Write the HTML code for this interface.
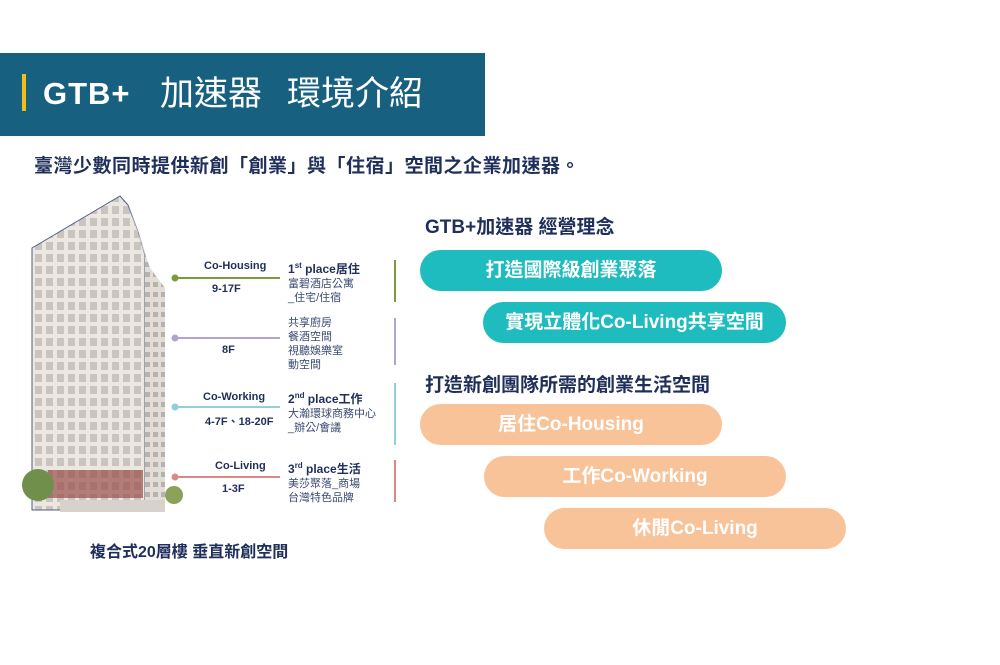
<!DOCTYPE html>
<html><head><meta charset="utf-8"><style>
body{margin:0;width:1000px;height:665px;background:#fff;position:relative;overflow:hidden;font-family:"Liberation Sans","Noto Sans CJK TC",sans-serif;color:#1f2f5a}
.a{position:absolute;white-space:nowrap}
.hdr{left:0;top:53px;width:485px;height:83px;background:#17607f}
.pill{position:absolute;height:41px;border-radius:21px;color:#fff;font-size:19px;font-weight:bold;text-align:center;line-height:41px}
.t{background:#1fbcbf}.p{background:#f8c398}
.lab{font-size:11px;font-weight:bold;color:#1f2f5a}
.sub{font-size:11px;line-height:14px;color:#3a4a70}
.hd{font-size:12px;font-weight:bold;color:#1f2f5a}
.vl{position:absolute;width:2px;left:394px}
</style></head><body>
<div class="a hdr"></div>
<div class="a" style="left:22px;top:74px;width:4px;height:37px;background:#f2bd16"></div>
<div class="a" style="left:43px;top:74px;font-size:31px;font-weight:bold;color:#fff;line-height:40px;letter-spacing:1px">GTB+</div>
<div class="a" style="left:160px;top:72px;font-size:34px;color:#fff;line-height:44px">加速器</div>
<div class="a" style="left:287px;top:72px;font-size:34px;color:#fff;line-height:44px">環境介紹</div>
<div class="a" style="left:34px;top:151px;font-size:19px;font-weight:bold;letter-spacing:0.5px">臺灣少數同時提供新創「創業」與「住宿」空間之企業加速器。</div>

<svg class="a" style="left:0;top:0" width="400" height="530">
<defs><pattern id="w" width="11" height="12" patternUnits="userSpaceOnUse"><rect width="11" height="12" fill="#ece7e0"/><rect x="2" y="2" width="7" height="8" fill="#c9c4bf"/></pattern>
<pattern id="w2" width="8" height="10" patternUnits="userSpaceOnUse"><rect width="8" height="10" fill="#e2ddd6"/><rect x="1" y="2" width="5" height="5" fill="#b8b2ad"/></pattern></defs>
<polygon points="32,248 120,196 128,205 138,232 145,255 145,510 32,510" fill="url(#w)" stroke="#4a5f8a" stroke-width="1"/>
<polygon points="128,205 138,232 150,268 165,288 165,505 145,510 145,255" fill="url(#w2)"/>
<rect x="48" y="470" width="95" height="28" fill="#9a4f4a" opacity="0.7"/>
<rect x="60" y="500" width="105" height="12" fill="#d8d2cc"/>
<circle cx="38" cy="485" r="16" fill="#6f8f4a"/><circle cx="174" cy="495" r="9" fill="#8aa25a"/>
<line x1="175" y1="278" x2="280" y2="278" stroke="#7a9a3c" stroke-width="2"/><circle cx="175" cy="278" r="3.5" fill="#7a9a3c"/>
<line x1="175" y1="338" x2="280" y2="338" stroke="#b3a4cf" stroke-width="2"/><circle cx="175" cy="338" r="3.5" fill="#b3a4cf"/>
<line x1="175" y1="407" x2="280" y2="407" stroke="#8ed0dc" stroke-width="2"/><circle cx="175" cy="407" r="3.5" fill="#8ed0dc"/>
<line x1="175" y1="477" x2="280" y2="477" stroke="#d98a86" stroke-width="2"/><circle cx="175" cy="477" r="3.5" fill="#d98a86"/>
</svg>
<div class="vl" style="top:260px;height:42px;background:#7a9a3c"></div>
<div class="vl" style="top:318px;height:47px;background:#b3a4cf"></div>
<div class="vl" style="top:383px;height:62px;background:#8ed0dc"></div>
<div class="vl" style="top:460px;height:42px;background:#d98a86"></div>

<div class="a lab" style="left:204px;top:260px">Co-Housing</div>
<div class="a lab" style="left:212px;top:283px">9-17F</div>
<div class="a lab" style="left:222px;top:344px">8F</div>
<div class="a lab" style="left:203px;top:391px">Co-Working</div>
<div class="a lab" style="left:205px;top:413px">4-7F、18-20F</div>
<div class="a lab" style="left:215px;top:460px">Co-Living</div>
<div class="a lab" style="left:222px;top:483px">1-3F</div>

<div class="a" style="left:288px;top:260px"><div class="hd">1<sup style="font-size:8px">st</sup> place居住</div><div class="sub">富碧酒店公寓<br>_住宅/住宿</div></div>
<div class="a sub" style="left:288px;top:316px">共享廚房<br>餐酒空間<br>視聽娛樂室<br>動空間</div>
<div class="a" style="left:288px;top:390px"><div class="hd">2<sup style="font-size:8px">nd</sup> place工作</div><div class="sub">大瀚環球商務中心<br>_辦公/會議</div></div>
<div class="a" style="left:288px;top:460px"><div class="hd">3<sup style="font-size:8px">rd</sup> place生活</div><div class="sub">美莎聚落_商場<br>台灣特色品牌</div></div>

<div class="a" style="left:90px;top:538px;font-size:16px;font-weight:bold">複合式20層樓 垂直新創空間</div>

<div class="a" style="left:425px;top:212px;font-size:19px;font-weight:bold">GTB+加速器 經營理念</div>
<div class="pill t" style="left:420px;top:250px;width:302px">打造國際級創業聚落</div>
<div class="pill t" style="left:483px;top:302px;width:303px">實現立體化Co-Living共享空間</div>
<div class="a" style="left:425px;top:370px;font-size:19px;font-weight:bold">打造新創團隊所需的創業生活空間</div>
<div class="pill p" style="left:420px;top:404px;width:302px">居住Co-Housing</div>
<div class="pill p" style="left:484px;top:456px;width:302px">工作Co-Working</div>
<div class="pill p" style="left:544px;top:508px;width:302px">休閒Co-Living</div>
</body></html>
